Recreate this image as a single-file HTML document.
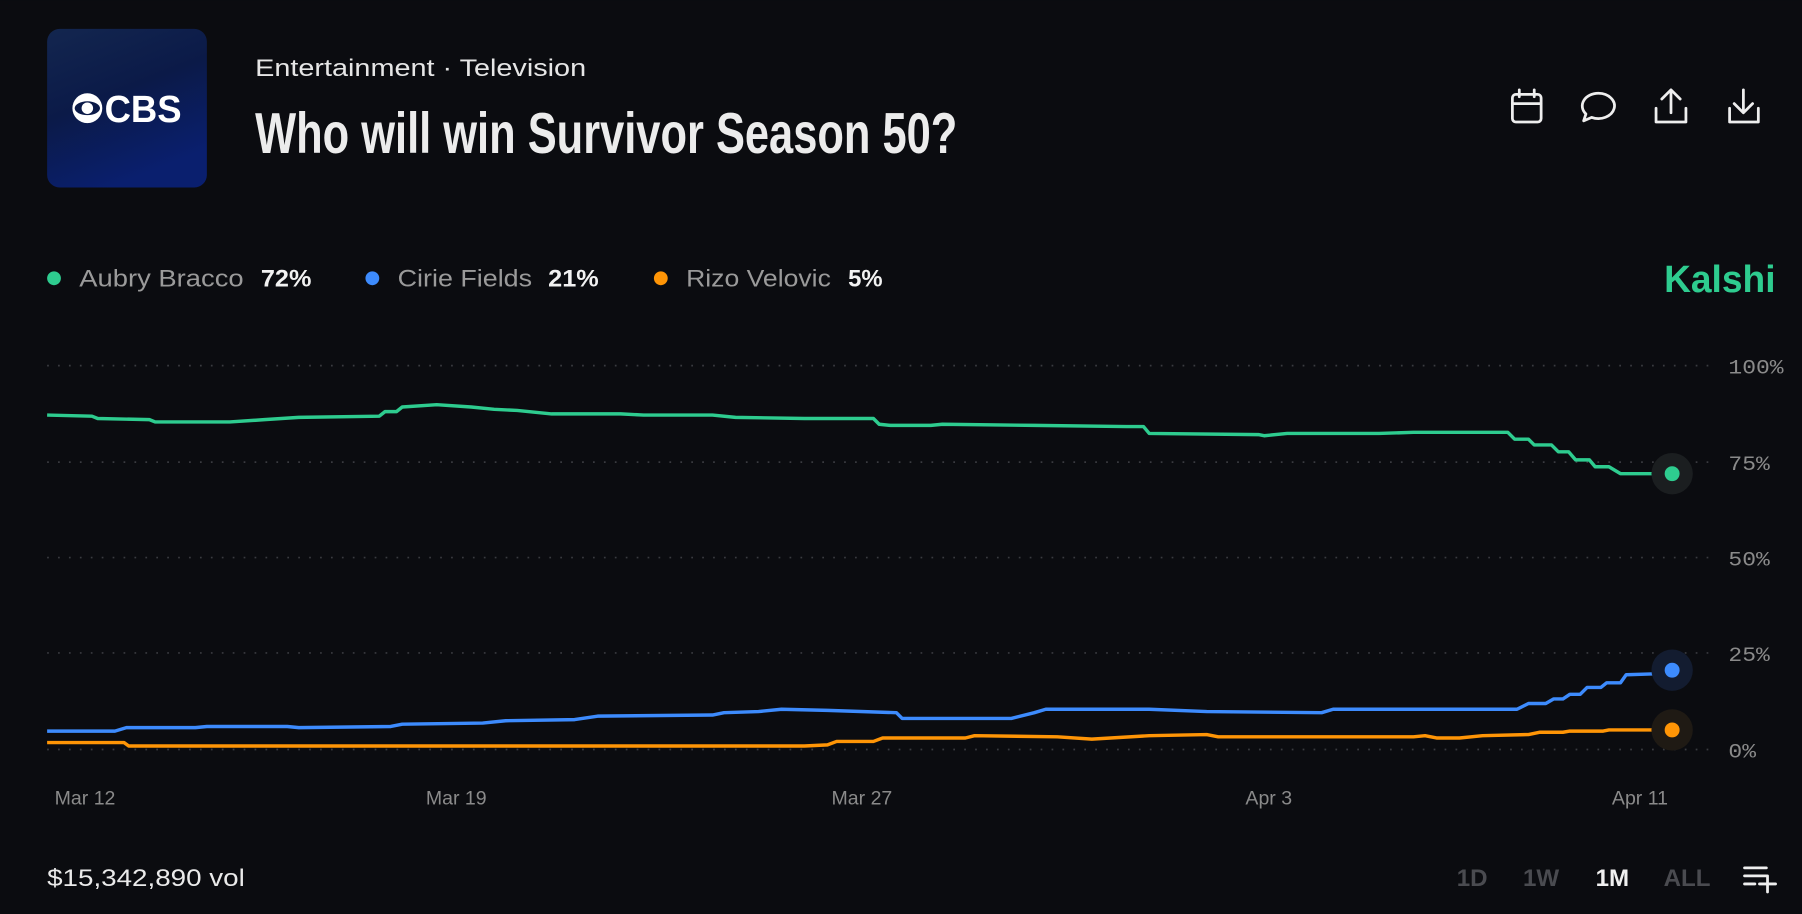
<!DOCTYPE html>
<html><head><meta charset="utf-8"><style>html,body{margin:0;padding:0;background:#0b0c10;}svg{display:block}</style></head>
<body>
<svg width="1802" height="914" viewBox="0 0 1568 795" xmlns="http://www.w3.org/2000/svg" font-family="Liberation Sans, sans-serif">
<defs>
<linearGradient id="lg" x1="0" y1="0" x2="0.4" y2="1"><stop offset="0" stop-color="#13264f"/><stop offset="0.5" stop-color="#0b1a48"/><stop offset="1" stop-color="#0a1f6e"/></linearGradient>
</defs>
<rect width="1568" height="795" fill="#0b0c10"/>
<rect x="41" y="25" width="139" height="138" rx="11" fill="url(#lg)"/>
<circle cx="76" cy="94" r="13" fill="#fff"/>
<ellipse cx="76" cy="94" rx="11" ry="6" fill="#0b1a48"/>
<circle cx="76" cy="94" r="5" fill="#fff"/>
<text x="91" y="106" font-size="33" font-weight="bold" fill="#fff" textLength="67" lengthAdjust="spacingAndGlyphs">CBS</text>
<text x="222" y="66" font-size="21" fill="#e6e6e6" textLength="288" lengthAdjust="spacingAndGlyphs">Entertainment  ·  Television</text>
<text x="222" y="133" font-size="50" font-weight="bold" fill="#ececec" textLength="611" lengthAdjust="spacingAndGlyphs">Who will win Survivor Season 50?</text>
<g fill="none" stroke="#eee" stroke-width="2.4" stroke-linecap="round" stroke-linejoin="round">
<rect x="1316" y="82" width="25" height="24" rx="3"/><line x1="1316" y1="90" x2="1341" y2="90"/><line x1="1322" y1="78" x2="1322" y2="84"/><line x1="1335" y1="78" x2="1335" y2="84"/>
<path d="M1391 81 a14 11 0 1 1 -6 21 l-7 3 l2 -6 a14 11 0 0 1 11 -18z"/>
<path d="M1441 94 v12 h26 v-12 M1454 98 v-19 M1446 86 l8 -8 l8 8"/>
<path d="M1505 94 v12 h25 v-12 M1517 78 v19 M1509 90 l8 8 l8 -8"/>
</g>
<g font-size="21">
<circle cx="47" cy="242" r="6" fill="#2ecc8f"/><text x="69" y="249" fill="#9a9a9a" textLength="143" lengthAdjust="spacingAndGlyphs">Aubry Bracco</text><text x="227" y="249" fill="#f2f2f2" font-weight="bold" textLength="44" lengthAdjust="spacingAndGlyphs">72%</text>
<circle cx="324" cy="242" r="6" fill="#3d8bfd"/><text x="346" y="249" fill="#9a9a9a" textLength="117" lengthAdjust="spacingAndGlyphs">Cirie Fields</text><text x="477" y="249" fill="#f2f2f2" font-weight="bold" textLength="44" lengthAdjust="spacingAndGlyphs">21%</text>
<circle cx="575" cy="242" r="6" fill="#ff9506"/><text x="597" y="249" fill="#9a9a9a" textLength="126" lengthAdjust="spacingAndGlyphs">Rizo Velovic</text><text x="738" y="249" fill="#f2f2f2" font-weight="bold" textLength="30" lengthAdjust="spacingAndGlyphs">5%</text>
</g>
<text x="1448" y="254" font-size="33" font-weight="bold" fill="#2ecc8f" textLength="97" lengthAdjust="spacingAndGlyphs">Kalshi</text>
<g stroke="#3a3b40" stroke-width="1.5" stroke-dasharray="1.5 8">
<line x1="41" y1="318" x2="1492" y2="318"/><line x1="41" y1="402" x2="1492" y2="402"/><line x1="41" y1="485" x2="1492" y2="485"/><line x1="41" y1="568" x2="1492" y2="568"/><line x1="41" y1="652" x2="1492" y2="652"/>
</g>
<g font-family="Liberation Mono, monospace" font-size="18" fill="#8a8a8a">
<text x="1504" y="325" textLength="48" lengthAdjust="spacingAndGlyphs">100%</text><text x="1504" y="409" textLength="36" lengthAdjust="spacingAndGlyphs">75%</text><text x="1504" y="492" textLength="36" lengthAdjust="spacingAndGlyphs">50%</text><text x="1504" y="575" textLength="36" lengthAdjust="spacingAndGlyphs">25%</text><text x="1504" y="659" textLength="24" lengthAdjust="spacingAndGlyphs">0%</text>
</g>
<g font-size="17" fill="#8a8a8a" text-anchor="middle">
<text x="74" y="700">Mar 12</text><text x="397" y="700">Mar 19</text><text x="750" y="700">Mar 27</text><text x="1104" y="700">Apr 3</text><text x="1427" y="700">Apr 11</text>
</g>
<g fill="none" stroke-width="3" stroke-linejoin="round">
<polyline stroke="#2ecc8f" points="41,361 80,362 85,364 130,365 135,367 200,367 230,365 260,363 330,362 335,358 345,358 350,354 380,352 410,354 430,356 450,357 480,360 540,360 560,361 620,361 640,363 700,364 760,364 765,369 775,370 810,370 820,369 900,370 980,371 995,371 1000,377 1095,378 1100,379 1120,377 1200,377 1230,376 1300,376 1312,376 1318,382 1330,382 1335,387 1350,387 1356,393 1365,393 1371,400 1383,400 1388,406 1400,406 1410,412 1448,412 1455,412"/>
<polyline stroke="#3d8bfd" points="41,636 100,636 110,633 170,633 180,632 250,632 260,633 340,632 350,630 420,629 440,627 500,626 520,623 620,622 630,620 660,619 680,617 720,618 780,620 785,625 880,625 900,620 910,617 1000,617 1050,619 1150,620 1160,617 1180,617 1320,617 1330,612 1345,612 1352,608 1360,608 1366,604 1375,604 1381,598 1393,598 1398,594 1410,594 1415,587 1445,586 1449,589 1455,583"/>
<polyline stroke="#ff9506" points="41,646 108,646 112,649 700,649 720,648 728,645 760,645 768,642 840,642 848,640 920,641 950,643 1000,640 1050,639 1060,641 1230,641 1240,640 1250,642 1270,642 1290,640 1330,639 1340,637 1360,637 1366,636 1395,636 1400,635 1455,635"/>
</g>
<circle cx="1455" cy="412" r="18" fill="#1b1e20"/><circle cx="1455" cy="412" r="6.5" fill="#2ecc8f"/>
<circle cx="1455" cy="583" r="18" fill="#131c30"/><circle cx="1455" cy="583" r="6.5" fill="#3d8bfd"/>
<circle cx="1455" cy="635" r="18" fill="#1f1a14"/><circle cx="1455" cy="635" r="6.5" fill="#ff9506"/>
<text x="41" y="771" font-size="21" fill="#eaeaea" textLength="172" lengthAdjust="spacingAndGlyphs">$15,342,890 vol</text>
<g font-size="21" font-weight="bold" text-anchor="middle" fill="#4a4b50">
<text x="1281" y="771">1D</text><text x="1341" y="771">1W</text><text x="1403" y="771" fill="#f0f0f0">1M</text><text x="1468" y="771">ALL</text>
</g>
<g stroke="#eee" stroke-width="2.4" stroke-linecap="round">
<line x1="1518" y1="755" x2="1537" y2="755"/><line x1="1518" y1="762" x2="1537" y2="762"/><line x1="1518" y1="769" x2="1527" y2="769"/><line x1="1531" y1="769" x2="1545" y2="769"/><line x1="1538" y1="762" x2="1538" y2="776"/>
</g>
</svg>
</body></html>
